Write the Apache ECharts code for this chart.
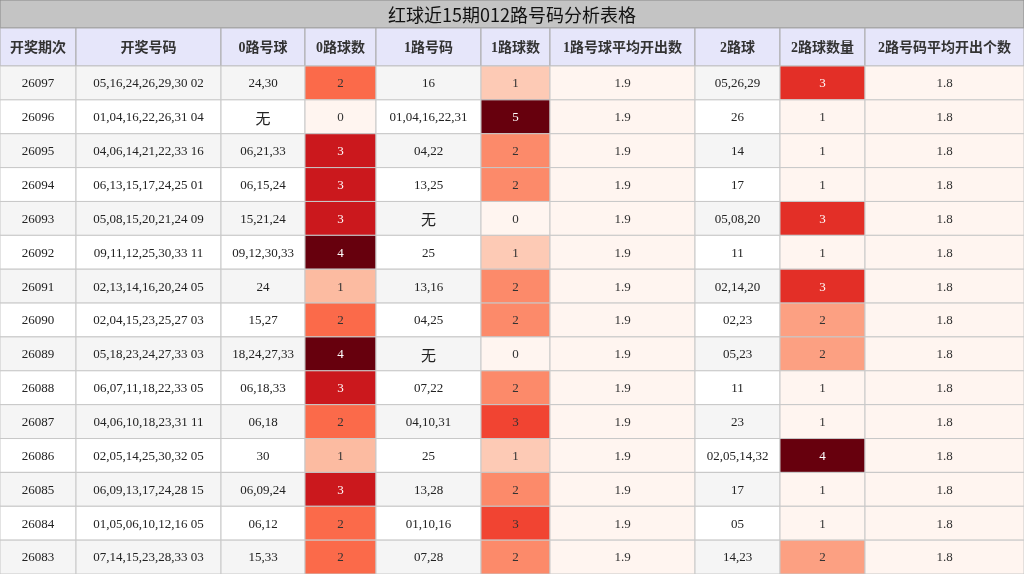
<!DOCTYPE html><html><head><meta charset="utf-8"><script src="https://cdn.jsdelivr.net/npm/echarts@6/dist/echarts.min.js"></script>
<style>html,body{margin:0;padding:0}#c{width:1024px;height:574px}</style></head><body><div id="c"></div><script>
const title = "红球近15期012路号码分析表格";
const headers = ["开奖期次","开奖号码","0路号球","0路球数","1路号码","1路球数","1路号球平均开出数","2路球","2路球数量","2路号码平均开出个数"];
const periods = ["26097","26096","26095","26094","26093","26092","26091","26090","26089","26088","26087","26086","26085","26084","26083"];
const draws = ["05,16,24,26,29,30 02","01,04,16,22,26,31 04","04,06,14,21,22,33 16","06,13,15,17,24,25 01","05,08,15,20,21,24 09","09,11,12,25,30,33 11","02,13,14,16,20,24 05","02,04,15,23,25,27 03","05,18,23,24,27,33 03","06,07,11,18,22,33 05","04,06,10,18,23,31 11","02,05,14,25,30,32 05","06,09,13,17,24,28 15","01,05,06,10,12,16 05","07,14,15,23,28,33 03"];
const zeroBalls = ["24,30","无","06,21,33","06,15,24","15,21,24","09,12,30,33","24","15,27","18,24,27,33","06,18,33","06,18","30","06,09,24","06,12","15,33"];
const zeroCnt = [2,0,3,3,3,4,1,2,4,3,2,1,3,2,2];
const oneBalls = ["16","01,04,16,22,31","04,22","13,25","无","25","13,16","04,25","无","07,22","04,10,31","25","13,28","01,10,16","07,28"];
const oneCnt = [1,5,2,2,0,1,2,2,0,2,3,1,2,3,2];
const oneAvg = [1.9,1.9,1.9,1.9,1.9,1.9,1.9,1.9,1.9,1.9,1.9,1.9,1.9,1.9,1.9];
const twoBalls = ["05,26,29","26","14","17","05,08,20","11","02,14,20","02,23","05,23","11","23","02,05,14,32","17","05","14,23"];
const twoCnt = [3,1,1,1,3,1,3,2,2,1,1,4,1,1,2];
const twoAvg = [1.8,1.8,1.8,1.8,1.8,1.8,1.8,1.8,1.8,1.8,1.8,1.8,1.8,1.8,1.8];

const columns = [periods,draws,zeroBalls,zeroCnt,oneBalls,oneCnt,oneAvg,twoBalls,twoCnt,twoAvg];
const heatCols = {3:true,5:true,6:true,8:true,9:true};
const edges = [0,76,221,305,376,481,550,695,780,865,1024];
const RED = ["#fff5f0","#fee0d2","#fcbba1","#fc9272","#fb6a4a","#ef3b2c","#cb181d","#a50f15","#67000d"];
function hex(c){return [1,3,5].map(i=>parseInt(c.substr(i,2),16));}
function reds(t){t=Math.max(0,Math.min(1,t));const p=t*(RED.length-1),i=Math.min(RED.length-2,Math.floor(p)),f=p-i;const a=hex(RED[i]),b=hex(RED[i+1]);return 'rgb('+a.map((v,k)=>Math.round(v+(b[k]-v)*f)).join(',')+')';}
function norm(arr,v){const mn=Math.min(...arr),mx=Math.max(...arr);return mx===mn?0:(v-mn)/(mx-mn);}

const data=[];
columns.forEach((col,c)=>col.forEach((v,r)=>data.push([c,periods[r],v])));

const chart=echarts.init(document.getElementById('c'));
const serif="'Liberation Serif','Noto Sans CJK SC',serif";
function cellStyle(c,r,v){
  if(heatCols[c]){const t=norm(columns[c],v);return {bg:reds(t),fg:t>0.6?'#fff':'#333'};}
  return {bg:r%2===0?'#f5f5f5':'#ffffff',fg:'#222'};
}
chart.setOption({
  animation:false,
  grid:{left:0,right:0,top:66,bottom:0},
  xAxis:{type:'value',min:0,max:10,show:false},
  yAxis:{type:'category',data:periods,inverse:true,show:false},
  graphic:[
    {type:'rect',shape:{x:0,y:0,width:1024,height:28},style:{fill:'#c4c4c4',stroke:'#888',lineWidth:1}},
    {type:'text',x:512,y:15,style:{text:title,fill:'#111',font:"18px 'Noto Sans CJK SC',sans-serif",align:'center',verticalAlign:'middle'}},
    ...headers.flatMap((h,i)=>[
      {type:'rect',shape:{x:edges[i],y:28,width:edges[i+1]-edges[i],height:38},style:{fill:'#e6e6fa',stroke:'#aaa',lineWidth:1}},
      {type:'text',x:(edges[i]+edges[i+1])/2,y:48,style:{text:h,fill:'#333',font:"bold 14px 'Liberation Serif','Noto Sans CJK SC',serif",align:'center',verticalAlign:'middle'}}
    ])
  ],
  series:[{
    type:'custom',data:data,
    renderItem:function(params,api){
      const c=api.value(0),r=params.dataIndex%15,v=columns[c][r];
      const y=api.coord([0,periods[r]])[1],h=api.size([0,1])[1];
      const s=cellStyle(c,r,v);
      const txt=String(v);
      return {type:'group',children:[
        {type:'rect',shape:{x:edges[c],y:y-h/2,width:edges[c+1]-edges[c],height:h},style:{fill:s.bg,stroke:'#c8c8c8',lineWidth:1}},
        {type:'text',x:(edges[c]+edges[c+1])/2,y:y+1,style:{text:txt,fill:s.fg,font:(txt==='无'?"15px 'Noto Sans CJK SC',sans-serif":"13px "+serif),align:'center',verticalAlign:'middle'}}
      ]};
    }
  }]
});
</script></body></html>
